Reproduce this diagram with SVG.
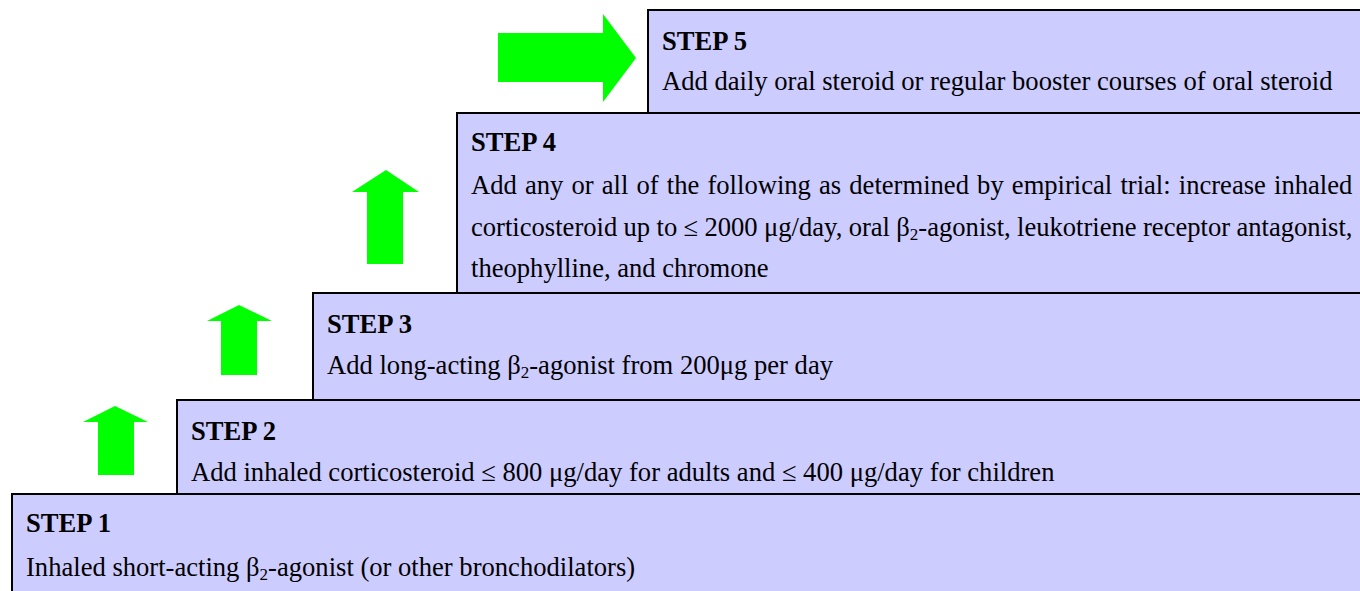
<svg xmlns="http://www.w3.org/2000/svg" width="1360" height="591" viewBox="0 0 1360 591">
<style>
.box{fill:#CCCCFF;stroke:#000;stroke-width:2}
.arr{fill:#00FF00;stroke:none}
text{font-family:"Liberation Serif","Times New Roman",serif;font-size:26.6px;fill:#000}
.h{font-weight:bold}
.sub{font-size:17px}
</style>
<rect width="1360" height="591" fill="#fff"/>
<g id="step1">
<rect class="box" x="12" y="494" width="1360" height="110"/>
<text class="h" x="26" y="532">STEP 1</text>
<text x="26" y="576">Inhaled short-acting β<tspan class="sub" dy="4">2</tspan><tspan dy="-4">-agonist (or other bronchodilators)</tspan></text>
</g>
<g id="step2">
<rect class="box" x="177" y="400" width="1200" height="94"/>
<text class="h" x="191" y="440">STEP 2</text>
<text x="191" y="481">Add inhaled corticosteroid ≤ 800 μg/day for adults and ≤ 400 μg/day for children</text>
</g>
<g id="step3">
<rect class="box" x="313" y="293" width="1100" height="107"/>
<text class="h" x="327" y="333">STEP 3</text>
<text x="327" y="374">Add long-acting β<tspan class="sub" dy="4">2</tspan><tspan dy="-4">-agonist from 200μg per day</tspan></text>
</g>
<g id="step4">
<rect class="box" x="457" y="113" width="1000" height="180"/>
<text class="h" x="471" y="151">STEP 4</text>
<text x="471" y="194" word-spacing="1.5">Add any or all of the following as determined by empirical trial: increase inhaled</text>
<text x="471" y="236" word-spacing="-0.3">corticosteroid up to ≤ 2000 μg/day, oral β<tspan class="sub" dy="4">2</tspan><tspan dy="-4">-agonist, leukotriene receptor antagonist,</tspan></text>
<text x="471" y="277">theophylline, and chromone</text>
</g>
<g id="step5">
<rect class="box" x="648" y="10" width="800" height="103"/>
<text class="h" x="662" y="50">STEP 5</text>
<text x="662" y="90">Add daily oral steroid or regular booster courses of oral steroid</text>
</g>
<g id="connectors">
<polygon class="arr" points="98,475 134,475 134,422 148,422 115,406 83,422 98,422"/>
<polygon class="arr" points="221,375 257,375 257,321 272,321 239,305 207,321 221,321"/>
<polygon class="arr" points="367,264 403,264 403,192 419,192 386,170 352,192 367,192"/>
<polygon class="arr" points="498,33 603,33 603,14 636,58 603,102 603,82 498,82"/>
</g>
</svg>
